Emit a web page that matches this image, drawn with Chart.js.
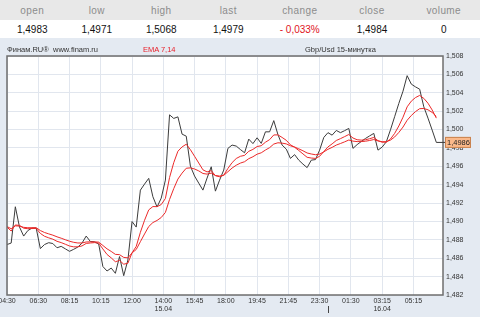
<!DOCTYPE html>
<html>
<head>
<meta charset="utf-8">
<script src="https://cdn.jsdelivr.net/npm/chart.js@4.4.1/dist/chart.umd.min.js"></script>
<style>
  html, body { margin: 0; padding: 0; width: 480px; height: 317px; overflow: hidden; background: #e4eaf2; font-family: Arial, "Liberation Sans", sans-serif; }
  .quote { position: absolute; left: 0; top: 0; width: 480px; border-collapse: collapse; table-layout: fixed; background: #fff; }
  .quote th { height: 20px; background: #e8e8e8; color: #8c8c8c; font-weight: normal; font-size: 10px; letter-spacing: 0.4px; padding: 0; }
  .quote td { height: 18px; color: #111; font-size: 10px; text-align: center; padding: 0; }
  .quote td.neg { color: #e0141e; }
  .caption { position: absolute; top: 45px; font-size: 7.5px; line-height: 9px; color: #333; white-space: nowrap; }
  #wrap { position: absolute; left: 0; top: 38px; width: 480px; height: 279px; }
</style>
</head>
<body>
<table class="quote">
  <colgroup>
    <col style="width:64.5px"><col style="width:64.5px"><col style="width:64.5px"><col style="width:69.5px">
    <col style="width:73.5px"><col style="width:71px"><col style="width:72.5px">
  </colgroup>
  <tr><th>open</th><th>low</th><th>high</th><th>last</th><th>change</th><th>close</th><th>volume</th></tr>
  <tr><td>1,4983</td><td>1,4971</td><td>1,5068</td><td>1,4979</td><td class="neg">- 0,033%</td><td>1,4984</td><td>0</td></tr>
</table>
<div id="wrap"><canvas id="chart"></canvas></div>
<span class="caption" style="left:7px">Финам.RU®</span>
<span class="caption" style="left:53px">www.finam.ru</span>
<span class="caption" style="left:143px;color:#e8202a">EMA 7,14</span>
<span class="caption" style="left:305px">Gbp/Usd 15-минутка</span>
<script>
// 15-minute bars, GBP/USD
const price = [
  1.48749, 1.48765, 1.49160, 1.48939, 1.48841, 1.48901, 1.48928, 1.48928, 1.48705, 1.48749,
  1.48769, 1.48760, 1.48714, 1.48729, 1.48702, 1.48675, 1.48697, 1.48722, 1.48765, 1.48841,
  1.48782, 1.48779, 1.48754, 1.48510, 1.48461, 1.48493, 1.48436, 1.48618, 1.48410, 1.48580,
  1.48999, 1.48939, 1.49341, 1.49407, 1.49469, 1.49269, 1.49157, 1.49254, 1.49450, 1.50160,
  1.50121, 1.50138, 1.49950, 1.49928, 1.49602, 1.49494, 1.49417, 1.49341, 1.49472, 1.49595,
  1.49330, 1.49450, 1.49559, 1.49795, 1.49831, 1.49820, 1.49782, 1.49747, 1.49896, 1.49847,
  1.49910, 1.49849, 1.49975, 1.49975, 1.50097, 1.49945, 1.49831, 1.49787, 1.49686, 1.49727,
  1.49667, 1.49624, 1.49586, 1.49667, 1.49673, 1.49776, 1.49914, 1.49966, 1.49939, 1.49990,
  1.49966, 1.49988, 1.50012, 1.49795, 1.49836, 1.49870, 1.49903, 1.49931, 1.49958, 1.49776,
  1.49809, 1.49866, 1.49997, 1.50140, 1.50284, 1.50417, 1.50586, 1.50494, 1.50464, 1.50439,
  1.50247, 1.50124, 1.49994, 1.4986
];

const ema7 = [
  1.48939, 1.48896, 1.48962, 1.48957, 1.48927, 1.48921, 1.48923, 1.48924, 1.48870, 1.48839,
  1.48822, 1.48807, 1.48784, 1.48770, 1.48752, 1.48733, 1.48724, 1.48724, 1.48734, 1.48761,
  1.48766, 1.48770, 1.48765, 1.48701, 1.48641, 1.48604, 1.48562, 1.48576, 1.48535, 1.48546,
  1.48659, 1.48728, 1.48882, 1.49013, 1.49126, 1.49162, 1.49161, 1.49184, 1.49250, 1.49478,
  1.49639, 1.49764, 1.49811, 1.49840, 1.49781, 1.49709, 1.49636, 1.49562, 1.49539, 1.49553,
  1.49498, 1.49486, 1.49504, 1.49577, 1.49640, 1.49685, 1.49709, 1.49719, 1.49763, 1.49784,
  1.49815, 1.49824, 1.49862, 1.49890, 1.49941, 1.49942, 1.49914, 1.49883, 1.49834, 1.49807,
  1.49772, 1.49735, 1.49698, 1.49690, 1.49686, 1.49709, 1.49760, 1.49811, 1.49844, 1.49881,
  1.49901, 1.49923, 1.49946, 1.49908, 1.49889, 1.49885, 1.49889, 1.49900, 1.49914, 1.49879,
  1.49862, 1.49863, 1.49897, 1.49958, 1.50039, 1.50134, 1.50247, 1.50309, 1.50348, 1.50371,
  1.50339, 1.50286, 1.50213, 1.50124
];

const ema14 = [
  1.48945, 1.48921, 1.48952, 1.48950, 1.48936, 1.48932, 1.48932, 1.48932, 1.48901, 1.48880,
  1.48865, 1.48851, 1.48833, 1.48818, 1.48801, 1.48785, 1.48773, 1.48766, 1.48766, 1.48777,
  1.48778, 1.48778, 1.48775, 1.48739, 1.48702, 1.48674, 1.48642, 1.48639, 1.48609, 1.48604,
  1.48658, 1.48695, 1.48780, 1.48864, 1.48945, 1.48988, 1.49011, 1.49043, 1.49098, 1.49239,
  1.49357, 1.49461, 1.49526, 1.49579, 1.49583, 1.49571, 1.49550, 1.49522, 1.49515, 1.49526,
  1.49500, 1.49494, 1.49502, 1.49541, 1.49581, 1.49612, 1.49635, 1.49650, 1.49683, 1.49704,
  1.49732, 1.49747, 1.49777, 1.49803, 1.49842, 1.49856, 1.49852, 1.49844, 1.49823, 1.49810,
  1.49790, 1.49769, 1.49745, 1.49734, 1.49726, 1.49733, 1.49757, 1.49785, 1.49806, 1.49831,
  1.49848, 1.49866, 1.49886, 1.49874, 1.49869, 1.49869, 1.49873, 1.49881, 1.49891, 1.49876,
  1.49868, 1.49868, 1.49885, 1.49919, 1.49968, 1.50027, 1.50101, 1.50153, 1.50195, 1.50227,
  1.50229, 1.50215, 1.50186, 1.50142
];

// x axis labels, one every 7.5 bars
const tickTimes = ["04:30", "06:30", "08:15", "10:15", "12:00", "14:00", "15:45",
  "18:00", "19:45", "21:45", "23:30", "01:30", "03:15", "05:15"];
const tickDates = ["", "", "", "", "", "15.04", "", "", "", "", "", "", "16.04", ""];
const barsPerTick = 7.5;
const dayBreakBar = 77;

const yMin = 1.482;
const yMax = 1.508;
const yStep = 0.002;

const fmt = (v, d) => v.toFixed(d).replace(".", ",");
const toPoints = (arr) => arr.map((v, i) => ({ x: i, y: v }));

// white plot area + frame, last price tag, day separator
const decorations = {
  id: "decorations",
  beforeDraw(chart) {
    const { ctx, chartArea: a } = chart;
    ctx.save();
    ctx.fillStyle = "#ffffff";
    ctx.fillRect(a.left, a.top, a.right - a.left, a.bottom - a.top);
    ctx.restore();
  },
  afterDraw(chart) {
    const { ctx, chartArea: a } = chart;
    const xs = chart.scales.x;
    const ys = chart.scales.y;
    ctx.save();

    // frame
    ctx.strokeStyle = "#6e6e6e";
    ctx.lineWidth = 1.5;
    ctx.strokeRect(a.left, a.top, a.right - a.left, a.bottom - a.top);

    // day separator under the axis
    const dx = Math.round(xs.getPixelForValue(dayBreakBar)) + 0.5;
    ctx.strokeStyle = "#444";
    ctx.lineWidth = 1;
    ctx.beginPath();
    ctx.moveTo(dx, a.bottom + 11);
    ctx.lineTo(dx, a.bottom + 18);
    ctx.stroke();

    // last price tag
    const last = price[price.length - 1];
    const lx = xs.getPixelForValue(price.length - 1);
    const ly = ys.getPixelForValue(last);
    ctx.strokeStyle = "#3a3a3a";
    ctx.beginPath();
    ctx.moveTo(lx, ly);
    ctx.lineTo(a.right + 2, ly);
    ctx.stroke();
    ctx.fillStyle = "#fbb98a";
    ctx.strokeStyle = "#c98350";
    ctx.fillRect(a.right + 2, ly - 5.5, 26, 11);
    ctx.strokeRect(a.right + 2.5, ly - 5, 25, 10);
    ctx.fillStyle = "#222";
    ctx.font = "7.5px Arial, 'Liberation Sans', sans-serif";
    ctx.textBaseline = "middle";
    ctx.textAlign = "left";
    ctx.fillText(fmt(last, 4), a.right + 4, ly + 0.5);
    ctx.restore();
  },
};

const ctx = document.getElementById("chart");
new Chart(ctx, {
  type: "line",
  data: {
    datasets: [
      { label: "EMA 7", data: toPoints(ema7), borderColor: "#ec2a2a", borderWidth: 1 },
      { label: "EMA 14", data: toPoints(ema14), borderColor: "#ec2a2a", borderWidth: 1 },
      { label: "Gbp/Usd", data: toPoints(price), borderColor: "#3c3c3c", borderWidth: 1 },
    ],
  },
  options: {
    animation: false,
    responsive: true,
    maintainAspectRatio: false,
    layout: { padding: { left: 7, top: 18, right: 0, bottom: 0 } },
    elements: {
      point: { radius: 0 },
      line: { tension: 0 },
    },
    plugins: {
      legend: { display: false },
      tooltip: { enabled: false },
    },
    scales: {
      x: {
        type: "linear",
        min: 0,
        max: 104.6,
        afterBuildTicks: (scale) => {
          scale.ticks = tickTimes.map((t, k) => ({ value: k * barsPerTick }));
        },
        afterFit: (scale) => {
          scale.height = 22;
          scale.paddingLeft = 0;
          scale.paddingRight = 0;
        },
        ticks: {
          autoSkip: false,
          maxRotation: 0,
          padding: 2,
          color: "#333",
          font: { size: 7, family: "Arial, 'Liberation Sans', sans-serif", lineHeight: 1.15 },
          callback: (value, index) =>
            tickDates[index] ? [tickTimes[index], tickDates[index]] : tickTimes[index],
        },
        grid: { color: "#e1e6ee", drawTicks: false },
        border: { display: false },
      },
      y: {
        position: "right",
        min: yMin,
        max: yMax,
        afterFit: (scale) => {
          scale.width = 37;
        },
        ticks: {
          stepSize: yStep,
          padding: 3,
          color: "#333",
          font: { size: 7, family: "Arial, 'Liberation Sans', sans-serif" },
          callback: (value) => fmt(value, 3),
        },
        grid: { color: "#e1e6ee", drawTicks: false },
        border: { display: false },
      },
    },
  },
  plugins: [decorations],
});
</script>
</body>
</html>
